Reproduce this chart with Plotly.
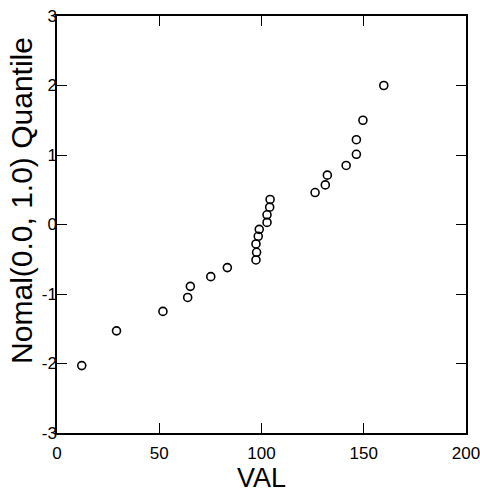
import plotly.graph_objects as go

val = [12.1, 29.1, 51.8, 63.9, 65.2, 75.2, 83.3, 97.3, 97.6, 97.3, 98.4, 98.9,
       102.7, 102.7, 104.0, 104.2, 126.2, 131.2, 132.2, 141.4, 146.4, 146.4, 149.6, 159.8]
quantile = [-2.03, -1.53, -1.25, -1.05, -0.89, -0.75, -0.62, -0.51, -0.40, -0.28, -0.17, -0.07,
            0.03, 0.14, 0.25, 0.36, 0.46, 0.57, 0.71, 0.85, 1.01, 1.22, 1.50, 2.00]

x_ticks = [0, 50, 100, 150, 200]
x_labels = ["0", "50", "100", "150", "200"]
y_ticks = [-3, -2, -1, 0, 1, 2, 3]
y_labels = ["-3", "-2", "-1", "0", "1", "2", "3"]
y_title = "Nomal(0.0, 1.0) Quantile"

fig = go.Figure()
fig.add_trace(go.Scatter(
    x=val, y=quantile, mode="markers",
    marker=dict(symbol="circle-open", size=8, color="black", line=dict(width=1.6)),
    showlegend=False, cliponaxis=False,
))

font = dict(family="Liberation Sans, Arial, sans-serif", color="black")
axis_common = dict(
    showgrid=False, zeroline=False, showline=True, linecolor="black", linewidth=1.5,
    mirror="ticks", ticks="inside", ticklen=10, tickwidth=1.3, tickcolor="black",
    tickfont=dict(size=17, **font), automargin=False, ticklabeloverflow="allow",
)
fig.update_layout(
    width=480, height=493,
    margin=dict(l=57, r=14, t=16, b=60, autoexpand=False),
    paper_bgcolor="white", plot_bgcolor="white",
    xaxis=dict(range=[0, 200], tickvals=x_ticks, ticktext=x_labels, ticklabelstandoff=4,
               title=dict(text="VAL", font=dict(size=27, **font), standoff=0), **axis_common),
    yaxis=dict(range=[-3, 3], tickvals=y_ticks, ticktext=y_labels, ticklabelstandoff=-5,
               **axis_common),
)
fig.add_annotation(
    text=y_title, textangle=-90, showarrow=False,
    xref="paper", yref="paper", x=-0.0856, y=0.559, xanchor="center", yanchor="middle",
    font=dict(size=30, **font),
)
fig.write_html("out.html", post_script="document.body.style.margin='0px';",
               config={"displayModeBar": False})
